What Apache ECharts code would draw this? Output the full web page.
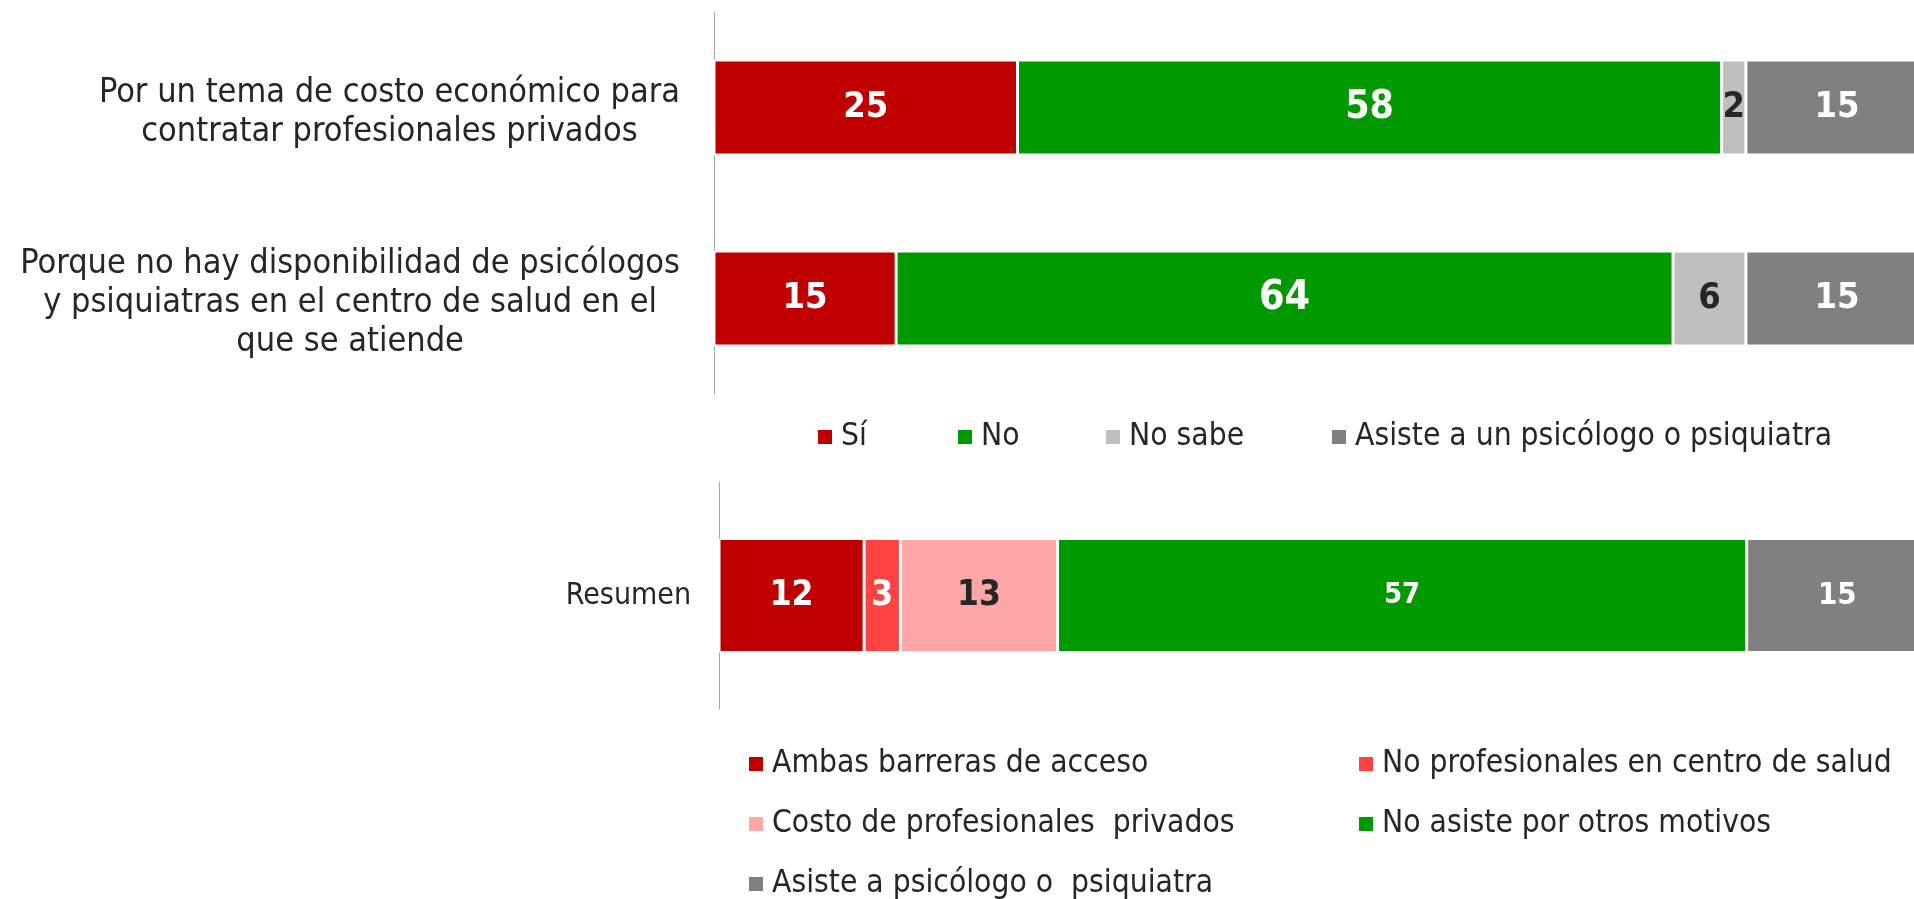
<!DOCTYPE html>
<html>
<head>
<meta charset="utf-8">
<script src="https://cdn.jsdelivr.net/npm/echarts@6/dist/echarts.min.js"></script>
<style>
html,body{margin:0;padding:0;background:#fff;overflow:hidden;width:1914px;height:899px;}
#chart{width:1930px;height:899px;}
</style>
</head>
<body>
<div id="chart"></div>
<script>
// ---- Data ----
const topCategories = [
  'Por un tema de costo económico para\ncontratar profesionales privados',
  'Porque no hay disponibilidad de psicólogos\ny psiquiatras en el centro de salud en el\nque se atiende'
];
const topSeriesNames = ['Sí', 'No', 'No sabe', 'Asiste a un psicólogo o psiquiatra'];
const topSi = [25, 15];
const topNo = [58, 64];
const topNoSabe = [2, 6];
const topAsiste = [15, 15];

const bottomCategories = ['Resumen'];
const bottomSeriesNames = ['Ambas barreras de acceso', 'No profesionales en centro de salud', 'Costo de profesionales  privados', 'No asiste por otros motivos', 'Asiste a psicólogo o  psiquiatra'];
const ambas = [12];
const noProfesionales = [3];
const costoPrivados = [13];
const noAsisteOtros = [57];
const asistePsicologo = [15];

// ---- Styles ----
const FONT = "'DejaVu Sans Condensed', 'DejaVu Sans', sans-serif";
const TXT = '#262626';

function barSeries(name, values, color, gridIdx, barWidth, labelColor, sizes) {
  return {
    type: 'bar', name: name, stack: 's' + gridIdx,
    xAxisIndex: gridIdx, yAxisIndex: gridIdx,
    barWidth: barWidth,
    itemStyle: { color: color, borderColor: '#ffffff', borderWidth: 1.5 },
    label: { show: true, position: 'inside', color: labelColor, fontWeight: 'bold', fontFamily: FONT },
    data: values.map((v, i) => ({ value: v, label: { fontSize: sizes[i] } })),
    emphasis: { disabled: true },
    animation: false
  };
}

function legendItem(name, left, centerY) {
  return {
    data: [name], left: left, top: centerY - 19, padding: 0,
    icon: 'rect', itemWidth: 14, itemHeight: 14, selectedMode: false,
    itemStyle: { borderWidth: 0 },
    textStyle: { fontSize: 31.5, fontFamily: FONT, color: TXT, lineHeight: 38, padding: [0, 0, 0, 4] }
  };
}

function catLabel(margin, size, lh, padTop) {
  return {
    margin: margin, color: TXT, fontFamily: FONT, fontSize: size, lineHeight: lh,
    padding: [padTop, 0, 0, 0],
    formatter: function (v) {
      return v.split('\n').map(function (l) { return '{c|' + l + '}'; }).join('\n');
    },
    rich: { c: { align: 'center', fontSize: size, fontFamily: FONT, color: TXT, lineHeight: lh } }
  };
}

const chart = echarts.init(document.getElementById('chart'));
chart.setOption({
  backgroundColor: '#ffffff',
  animation: false,
  grid: [
    { left: 714, top: 12, height: 382, right: 2 },
    { left: 719, top: 482, height: 227, right: 2 }
  ],
  xAxis: [
    { gridIndex: 0, type: 'value', min: 0, max: 100, show: false },
    { gridIndex: 1, type: 'value', min: 0, max: 100, show: false }
  ],
  yAxis: [
    { gridIndex: 0, type: 'category', inverse: true, data: topCategories,
      axisLine: { show: true, lineStyle: { color: '#A6A6A6', width: 1 } },
      axisTick: { show: false },
      axisLabel: catLabel(34, 34, 39, 10) },
    { gridIndex: 1, type: 'category', inverse: true, data: bottomCategories,
      axisLine: { show: true, lineStyle: { color: '#A6A6A6', width: 1 } },
      axisTick: { show: false },
      axisLabel: catLabel(28, 30, 36, 2) }
  ],
  legend: [
    legendItem(topSeriesNames[0], 818, 437),
    legendItem(topSeriesNames[1], 958, 437),
    legendItem(topSeriesNames[2], 1106, 437),
    legendItem(topSeriesNames[3], 1332, 437),
    legendItem(bottomSeriesNames[0], 749, 764),
    legendItem(bottomSeriesNames[1], 1359, 764),
    legendItem(bottomSeriesNames[2], 749, 824),
    legendItem(bottomSeriesNames[3], 1359, 824),
    legendItem(bottomSeriesNames[4], 749, 884)
  ],
  series: [
    barSeries(topSeriesNames[0], topSi, '#C00000', 0, 95, '#ffffff', [36, 36]),
    barSeries(topSeriesNames[1], topNo, '#009900', 0, 95, '#ffffff', [39, 41]),
    barSeries(topSeriesNames[2], topNoSabe, '#BFBFBF', 0, 95, TXT, [36, 36]),
    barSeries(topSeriesNames[3], topAsiste, '#808080', 0, 95, '#ffffff', [36, 36]),
    barSeries(bottomSeriesNames[0], ambas, '#C00000', 1, 114, '#ffffff', [35]),
    barSeries(bottomSeriesNames[1], noProfesionales, '#FF4343', 1, 114, '#ffffff', [35]),
    barSeries(bottomSeriesNames[2], costoPrivados, '#FFA7A7', 1, 114, TXT, [35]),
    barSeries(bottomSeriesNames[3], noAsisteOtros, '#009900', 1, 114, '#ffffff', [29]),
    barSeries(bottomSeriesNames[4], asistePsicologo, '#808080', 1, 114, '#ffffff', [31])
  ]
});
</script>
</body>
</html>
